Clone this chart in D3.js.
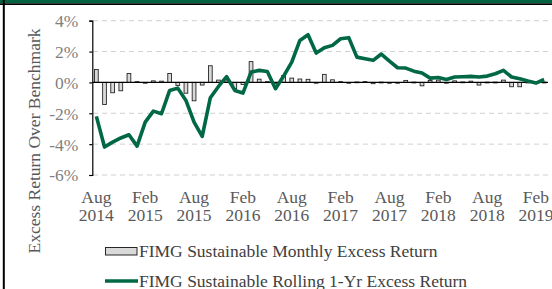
<!DOCTYPE html>
<html><head><meta charset="utf-8">
<script src="https://cdn.jsdelivr.net/npm/d3@7/dist/d3.min.js"></script>
<style>html,body{margin:0;padding:0;background:#fff;}svg{display:block;}</style>
</head><body><svg id="c" width="552" height="289"></svg>
<script>
// Months Aug 2014 .. Mar 2019
const startMonth = "2014-08";
const monthCount = 56;
const tickLabels = ["Aug 2014","Feb 2015","Aug 2015","Feb 2016","Aug 2016","Feb 2017","Aug 2017","Feb 2018","Aug 2018","Feb 2019"];
const yTicks = [4, 2, 0, -2, -4, -6];
const monthlyExcess = [
  0.84, -1.43, -0.67, -0.54, 0.58, 0.05, -0.05, 0.10, 0.08, 0.58,
  -0.20, -0.70, -1.19, -0.17, 1.08, 0.15, 0.10, -0.40, -0.13, 1.35,
  0.21, 0.05, -0.08, 0.45, 0.28, 0.22, 0.20, -0.05, 0.52, 0.17,
  0.05, -0.03, 0.03, 0.05, -0.08, 0.02, -0.05, -0.05, 0.13, 0.02,
  -0.22, 0.13, 0.15, -0.05, 0.10, 0.03, 0.08, -0.17, 0.02, 0.02,
  0.15, -0.28, -0.28, 0.02, -0.05, 0.02
];
const rollingExcess = [
  -2.20, -4.19, -3.87, -3.60, -3.39, -4.13, -2.57, -1.86, -2.03, -0.52,
  -0.37, -1.17, -2.57, -3.50, -0.99, -0.26, 0.37, -0.52, -0.69, 0.67,
  0.78, 0.71, -0.41, 0.41, 1.32, 2.72, 3.09, 1.90, 2.25, 2.40,
  2.83, 2.90, 1.64, 1.53, 1.43, 1.84, 1.38, 0.95, 0.93, 0.73,
  0.61, 0.28, 0.32, 0.19, 0.35, 0.37, 0.39, 0.35, 0.41, 0.56,
  0.78, 0.35, 0.24, 0.09, -0.04, 0.19
];
const legendLabels = ["FIMG Sustainable Monthly Excess Return", "FIMG Sustainable Rolling 1-Yr Excess Return"];
const yTitle = "Excess Return Over Benchmark";

const parse = d3.timeParse("%Y-%m");
const fmt = d3.timeFormat("%b %Y");
const months = d3.range(monthCount).map(i => fmt(d3.timeMonth.offset(parse(startMonth), i)));

const svg = d3.select("#c");
const green = "#006844";
const font = "'Liberation Serif','Times New Roman',serif";

// frame
svg.append("rect").attr("x",0).attr("y",0).attr("width",552).attr("height",3.3).attr("fill","#00623f");
svg.append("rect").attr("x",0).attr("y",3.3).attr("width",552).attr("height",1.7).attr("fill","#000");
svg.append("rect").attr("x",2.8).attr("y",0).attr("width",2).attr("height",289).attr("fill","#000");

const x = d3.scaleBand().domain(months).range([92.3, 548.2]).padding(0);
const y = d3.scaleLinear().domain([-6, 4]).range([175, 20.7]);
const cx = m => x(m) + x.bandwidth()/2;

// gridlines
svg.append("g").selectAll("line").data(yTicks.filter(t => t !== 0)).join("line")
  .attr("x1", 93).attr("x2", 548).attr("y1", d => y(d)).attr("y2", d => y(d))
  .attr("stroke", "#d0d0d0").attr("stroke-width", 1).attr("stroke-dasharray", "5,4");

// y axis
const yAxis = d3.axisLeft(y).tickValues(yTicks).tickSize(3).tickFormat(d => d + "%");
const ga = svg.append("g").attr("transform", "translate(92.3,0)").call(yAxis);
ga.select(".domain").attr("stroke", "#000").attr("stroke-width", 1.2);
ga.selectAll(".tick line").attr("stroke", "#000").attr("stroke-width", 1.2);
ga.selectAll(".tick text").attr("font-family", font).attr("font-size", 17.5).attr("fill", "#7f7f7f").attr("x", -14).attr("dy", "0.34em");

// bars
const bw = x.bandwidth() * 0.46;
svg.append("g").selectAll("rect").data(monthlyExcess).join("rect")
  .attr("x", (d, i) => cx(months[i]) - bw/2)
  .attr("y", d => y(Math.max(0, d)))
  .attr("width", bw)
  .attr("height", d => Math.max(0.8, Math.abs(y(d) - y(0))))
  .attr("fill", "#d9d9d9").attr("stroke", "#262626").attr("stroke-width", 0.9);

// zero line
svg.append("line").attr("x1", 92.3).attr("x2", 548).attr("y1", y(0)).attr("y2", y(0))
  .attr("stroke", "#000").attr("stroke-width", 1.2);

// rolling line
const line = d3.line().x((d, i) => cx(months[i])).y(d => y(d));
svg.append("path").datum(rollingExcess).attr("d", line)
  .attr("fill", "none").attr("stroke", green).attr("stroke-width", 3.6).attr("stroke-linejoin", "round");

// x labels
const xl = svg.append("g").attr("font-family", font).attr("font-size", 17.5).attr("fill", "#595959").attr("text-anchor", "middle");
tickLabels.forEach(lbl => {
  const [m, yr] = lbl.split(" ");
  const t = xl.append("text").attr("x", cx(lbl)).attr("y", 203);
  t.append("tspan").attr("x", cx(lbl)).attr("y", 203).text(m);
  t.append("tspan").attr("x", cx(lbl)).attr("y", 220.5).text(yr);
});

// y title
svg.append("text").attr("transform", "translate(40,141) rotate(-90)")
  .attr("text-anchor", "middle").attr("font-family", font).attr("font-size", 17.5).attr("fill", "#595959").text(yTitle);

// legend
const lg = svg.append("g").attr("font-family", font).attr("font-size", 17.5).attr("fill", "#404040");
lg.append("rect").attr("x", 105.5).attr("y", 247.5).attr("width", 31.5).attr("height", 7.5)
  .attr("fill", "#d9d9d9").attr("stroke", "#262626").attr("stroke-width", 1);
lg.append("text").attr("x", 139).attr("y", 257).text(legendLabels[0]);
lg.append("line").attr("x1", 105).attr("x2", 138).attr("y1", 281).attr("y2", 281).attr("stroke", green).attr("stroke-width", 3.6);
lg.append("text").attr("x", 139).attr("y", 286.5).text(legendLabels[1]);
</script></body></html>
